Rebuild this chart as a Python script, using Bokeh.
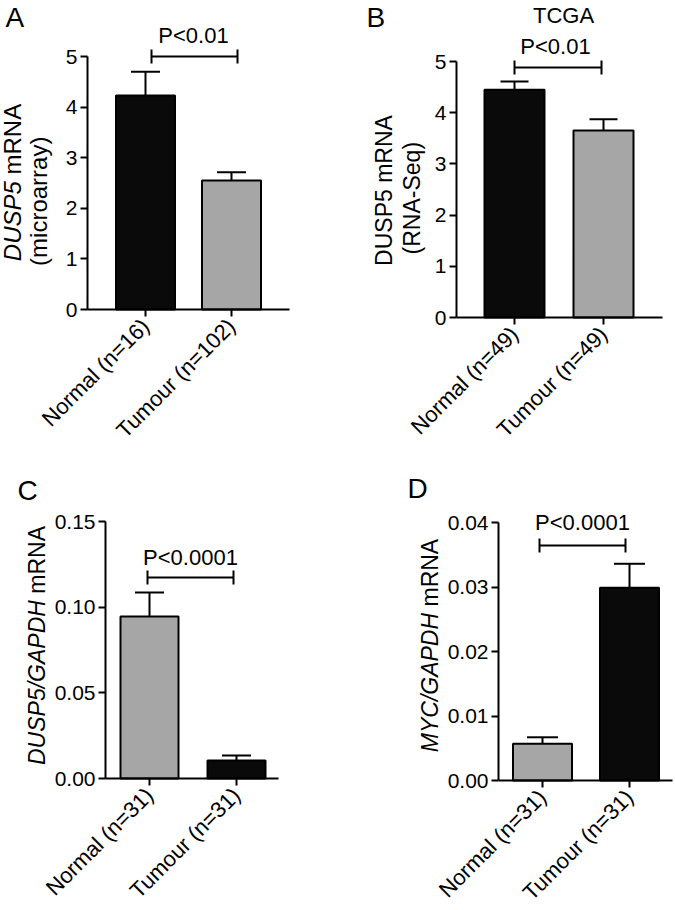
import math
from bokeh.plotting import figure
from bokeh.models import Range1d, FixedTicker, Label, PrintfTickFormatter
from bokeh.layouts import column, row
from bokeh.embed import file_html
from bokeh.resources import INLINE

# ---------------- data ----------------
cats_A = ["Normal (n=16)", "Tumour (n=102)"]
mean_A = [4.23, 2.55]
sem_A = [0.47, 0.16]

cats_B = ["Normal (n=49)", "Tumour (n=49)"]
mean_B = [4.45, 3.65]
sem_B = [0.16, 0.22]

cats_C = ["Normal (n=31)", "Tumour (n=31)"]
mean_C = [0.0946, 0.0105]
sem_C = [0.0140, 0.0029]

cats_D = ["Normal (n=31)", "Tumour (n=31)"]
mean_D = [0.0057, 0.0299]
sem_D = [0.0010, 0.0037]

ticks_A = [0, 1, 2, 3, 4, 5]
ticks_B = [0, 1, 2, 3, 4, 5]
ticks_C = [0.0, 0.05, 0.10, 0.15]
ticks_D = [0.0, 0.01, 0.02, 0.03, 0.04]

pval_A = "P<0.01"
pval_B = "P<0.01"
pval_C = "P<0.0001"
pval_D = "P<0.0001"

BLACK = "#0a0a0a"
GREY = "#a6a6a6"
FONT = "Liberation Sans"
CORR = 0.36  # empirical baseline correction (em)

# Arial/Liberation advance widths (em)
W = {"D": .722, "U": .722, "S": .667, "P": .667, "5": .556, "/": .278, "G": .778,
     "A": .667, "H": .722, "M": .833, "Y": .667, "C": .722, " ": .278, "m": .833,
     "R": .722, "N": .722}


def tw(s, size):
    return sum(W.get(c, 0.556) for c in s) * size


def panel(cats, means, sems, colors, yticks, fmt, cfg):
    ox, oy, fw, fh = cfg["fig"]
    left, right, y0 = cfg["frame"]
    x1p, x2p = cfg["xpx"]
    ytp, ytv = cfg["ytick"]
    upx = x2p - x1p
    vpp = ytv / (y0 - ytp)  # value per pixel

    def dx(px):
        return 1 + (px - x1p) / upx

    def dy(py):
        return (y0 - py) * vpp

    def hlabel(x, y, text, size, align="center"):
        p.add_layout(Label(x=dx(x), y=dy(y - CORR * size), text=text, text_align=align,
                           text_baseline="alphabetic", text_font=FONT,
                           text_font_size=f"{size}px", text_color="black"))

    p = figure(width=fw, height=fh, output_backend="svg", toolbar_location=None,
               x_range=Range1d(dx(ox), dx(ox + fw)), y_range=Range1d(dy(oy + fh), dy(oy)),
               min_border_left=0, min_border_right=0, min_border_top=0, min_border_bottom=0)
    p.outline_line_color = None
    p.grid.visible = False
    p.background_fill_color = "white"
    p.border_fill_color = "white"

    xs = [i + 1 for i in range(len(cats))]
    bw = cfg["barpx"] / upx
    cw = cfg["cappx"] / upx
    tops = [m + s for m, s in zip(means, sems)]
    p.segment(x0=xs, y0=means, x1=xs, y1=tops, line_color="black", line_width=2)
    p.segment(x0=[x - cw / 2 for x in xs], y0=tops, x1=[x + cw / 2 for x in xs], y1=tops,
              line_color="black", line_width=2)
    p.vbar(x=xs, top=means, bottom=0, width=bw, fill_color=colors,
           line_color="black", line_width=2)

    # significance bracket
    bx0, bx1, by = cfg["bracket"]
    hy = 7 * vpp
    p.segment(x0=[dx(bx0), dx(bx0), dx(bx1)], y0=[dy(by), dy(by) - hy, dy(by) - hy],
              x1=[dx(bx1), dx(bx0), dx(bx1)], y1=[dy(by), dy(by) + hy, dy(by) + hy],
              line_color="black", line_width=2)
    px_, py_ = cfg["ptext"]
    hlabel(px_, py_, cfg["pval"], 22)

    # panel letter
    lx, ly = cfg["letter"]
    hlabel(lx, ly, cfg["letter_text"], 28, align="left")
    if "title" in cfg:
        tx, ty = cfg["title_pos"]
        hlabel(tx, ty, cfg["title"], 22)

    # y-axis title (rotated), lines of (italic part, normal part)
    ysz = cfg["ylab_size"]
    cy = cfg["ylab_cy"]
    for (ital, norm), bx in zip(cfg["ylab"], cfg["ylab_x"]):
        sp = tw(" ", ysz) if (ital and norm) else 0
        total = tw(ital, ysz) + sp + tw(norm, ysz)
        split = cy + total / 2 - tw(ital, ysz)  # screen y (down) of end of italic part
        xx = dx(bx - CORR * ysz)
        if ital:
            p.add_layout(Label(x=xx, y=dy(split), text=ital, angle=math.pi / 2,
                               text_align="right", text_baseline="alphabetic",
                               text_font=FONT, text_font_style="italic",
                               text_font_size=f"{ysz}px", text_color="black"))
        if norm:
            p.add_layout(Label(x=xx, y=dy(split - sp), text=norm, angle=math.pi / 2,
                               text_align="left", text_baseline="alphabetic",
                               text_font=FONT, text_font_size=f"{ysz}px",
                               text_color="black"))

    # axes (drawn at fixed data locations so that they take no border space)
    xa = p.xaxis[0]
    ya = p.yaxis[0]
    xa.fixed_location = 0
    xa.bounds = (dx(left), dx(right))
    ya.fixed_location = dx(left)
    ya.bounds = (yticks[0], yticks[-1])
    xa.ticker = FixedTicker(ticks=xs)
    xa.major_label_overrides = {x: c for x, c in zip(xs, cats)}
    xa.major_label_orientation = math.pi / 4
    xa.major_label_text_font_size = "22px"
    xa.major_label_standoff = 6
    ya.ticker = FixedTicker(ticks=yticks)
    ya.formatter = PrintfTickFormatter(format=fmt)
    ya.major_label_text_font_size = cfg["tick_size"]
    ya.major_label_standoff = 3
    for ax in (xa, ya):
        ax.axis_line_width = 2
        ax.axis_line_color = "black"
        ax.major_tick_line_width = 2
        ax.major_tick_line_color = "black"
        ax.major_tick_out = 7
        ax.major_tick_in = 0
        ax.minor_tick_line_color = None
        ax.major_label_text_font = FONT
        ax.major_label_text_color = "black"
        ax.axis_label = None
    return p


cfgA = dict(fig=(0, 0, 335, 445), frame=(87, 289, 309), xpx=(145, 231), ytick=(56, 5),
            barpx=59, cappx=29, bracket=(151, 237, 56), ptext=(193, 43), pval=pval_A,
            letter=(5, 27), letter_text="A", tick_size="21px",
            ylab=[("DUSP5", "mRNA"), ("", "(microarray)")], ylab_x=(21, 47), ylab_cy=182,
            ylab_size=24)
cfgB = dict(fig=(335, 0, 340, 445), frame=(456, 662, 317), xpx=(514, 603), ytick=(61, 5),
            barpx=60, cappx=28, bracket=(514, 601, 67), ptext=(555, 54), pval=pval_B,
            letter=(366, 27), letter_text="B", title="TCGA", title_pos=(563, 23),
            tick_size="21px",
            ylab=[("", "DUSP5 mRNA"), ("", "(RNA-Seq)")], ylab_x=(392, 420), ylab_cy=190,
            ylab_size=23)
cfgC = dict(fig=(0, 445, 335, 463), frame=(105, 278, 778), xpx=(149, 236),
            ytick=(521, 0.15), barpx=58, cappx=29, bracket=(147, 233, 577),
            ptext=(190, 565), pval=pval_C, letter=(17, 500), letter_text="C",
            tick_size="21px",
            ylab=[("DUSP5/GAPDH", "mRNA")], ylab_x=(45,), ylab_cy=645, ylab_size=23)
cfgD = dict(fig=(335, 445, 340, 463), frame=(498, 672, 780), xpx=(542, 629),
            ytick=(522, 0.04), barpx=59, cappx=31, bracket=(539, 625, 545),
            ptext=(582, 530), pval=pval_D, letter=(407, 498), letter_text="D",
            tick_size="21px",
            ylab=[("MYC/GAPDH", "mRNA")], ylab_x=(438,), ylab_cy=645, ylab_size=23)

pA = panel(cats_A, mean_A, sem_A, [BLACK, GREY], ticks_A, "%d", cfgA)
pB = panel(cats_B, mean_B, sem_B, [BLACK, GREY], ticks_B, "%d", cfgB)
pC = panel(cats_C, mean_C, sem_C, [GREY, BLACK], ticks_C, "%.2f", cfgC)
pD = panel(cats_D, mean_D, sem_D, [GREY, BLACK], ticks_D, "%.2f", cfgD)

layout = column(row(pA, pB), row(pC, pD))
open("out.html", "w").write(file_html(layout, INLINE))
